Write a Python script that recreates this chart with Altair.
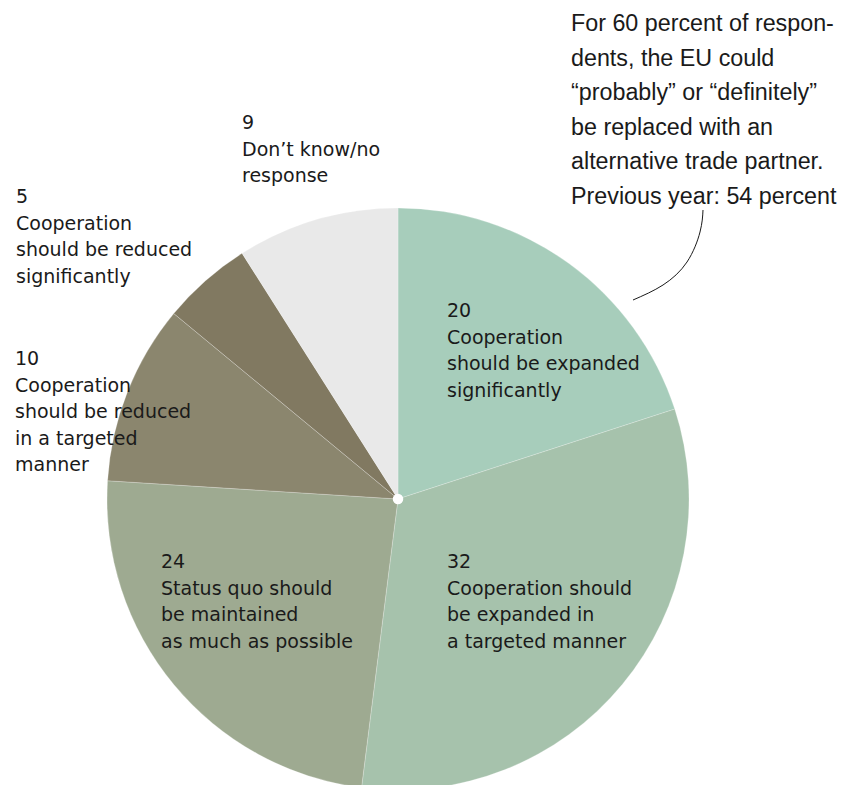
import altair as alt
import pandas as pd

# ---- data ----
categories = [
    "Cooperation should be expanded significantly",
    "Cooperation should be expanded in a targeted manner",
    "Status quo should be maintained as much as possible",
    "Cooperation should be reduced in a targeted manner",
    "Cooperation should be reduced significantly",
    "Don’t know/no response",
]
values = [20, 32, 24, 10, 5, 9]
label_lines = [
    ["Cooperation", "should be expanded", "significantly"],
    ["Cooperation should", "be expanded in", "a targeted manner"],
    ["Status quo should", "be maintained", "as much as possible"],
    ["Cooperation", "should be reduced", "in a targeted", "manner"],
    ["Cooperation", "should be reduced", "significantly"],
    ["Don’t know/no", "response"],
]
annotation_lines = [
    "For 60 percent of respon-",
    "dents, the EU could",
    "“probably” or “definitely”",
    "be replaced with an",
    "alternative trade partner.",
    "Previous year: 54 percent",
]

# ---- styling / layout ----
colors = ["#a7cdbb", "#a6c2ac", "#9eaa91", "#8b866e", "#817961", "#e9e9e9"]
CX, CY, R = 398, 499, 291
LABEL_FONT = "DejaVu Sans"
NOTE_FONT = "Liberation Sans"
TEXT_COLOR = "#1a1a1a"
label_pos = [(447, 317), (447, 568), (161, 568), (15, 365), (16, 203), (242, 129)]
leader_x = [703, 700, 687, 663, 633]
leader_y = [210, 232, 262, 285, 300]

df = pd.DataFrame({"category": categories, "value": values, "idx": list(range(len(values)))})

pie = alt.Chart(df).mark_arc(
    outerRadius=R, stroke="white", strokeWidth=0.4, strokeOpacity=0.6
).encode(
    theta=alt.Theta("value:Q", stack=True),
    order=alt.Order("idx:Q", sort="ascending"),
    color=alt.Color("category:N", scale=alt.Scale(domain=categories, range=colors), legend=None),
    x=alt.value(CX),
    y=alt.value(CY),
)

one = pd.DataFrame({"a": [0]})
center_dot = alt.Chart(one).mark_point(
    filled=True, color="white", size=110, opacity=1
).encode(x=alt.value(CX), y=alt.value(CY))

layers = [pie, center_dot]
for i, (v, lines) in enumerate(zip(values, label_lines)):
    x, y = label_pos[i]
    layers.append(
        alt.Chart(one).mark_text(
            align="left", baseline="alphabetic", font=LABEL_FONT, fontSize=19,
            lineHeight=26.5, color=TEXT_COLOR,
        ).encode(x=alt.value(x), y=alt.value(y), text=alt.value([str(v)] + lines))
    )

layers.append(
    alt.Chart(one).mark_text(
        align="left", baseline="alphabetic", font=NOTE_FONT, fontSize=23.3,
        lineHeight=34.5, color=TEXT_COLOR,
    ).encode(x=alt.value(571), y=alt.value(31), text=alt.value(annotation_lines))
)

leader_df = pd.DataFrame({"x": leader_x, "y": leader_y, "i": list(range(len(leader_x)))})
leader = alt.Chart(leader_df).mark_line(
    color="#1a1a1a", strokeWidth=1, interpolate="natural"
).encode(
    x=alt.X("x:Q", scale=None, axis=None),
    y=alt.Y("y:Q", scale=None, axis=None),
    order="i:Q",
)
layers.append(leader)

chart = alt.layer(*layers).properties(
    width=854, height=785, autosize="none", padding=0
).configure_view(stroke=None)

chart.save("out.html", embed_options={"renderer": "svg", "actions": False})
